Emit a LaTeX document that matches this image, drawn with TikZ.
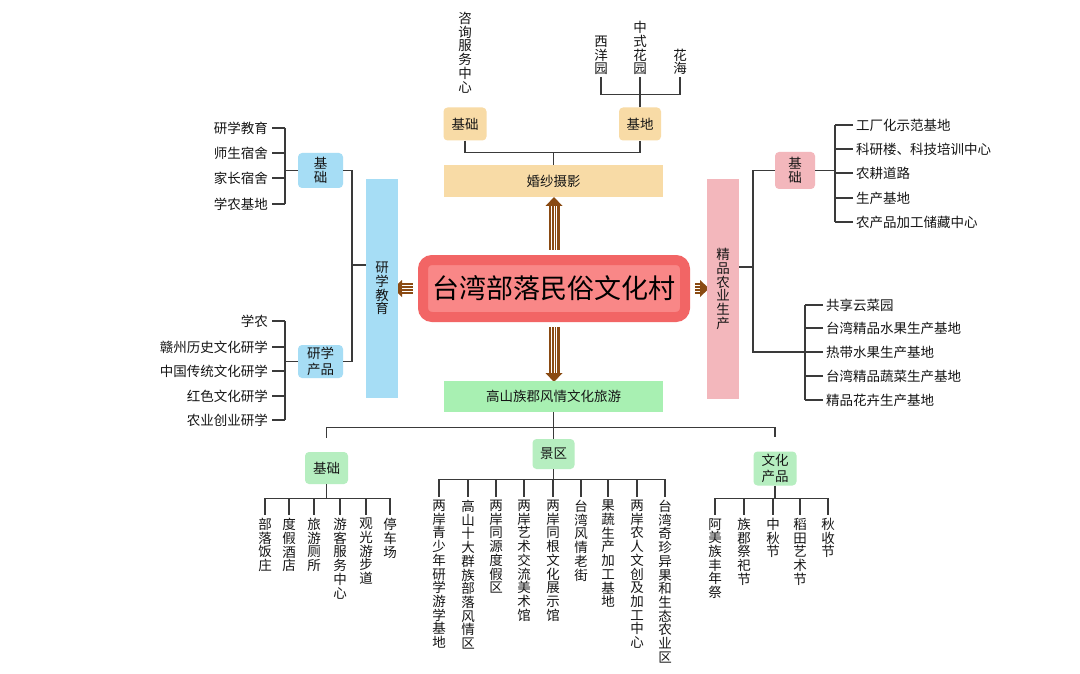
\documentclass[tikz,border=0pt]{standalone}
\usepackage{fontspec}
\setmainfont{Noto Sans CJK SC}
\definecolor{tanc}{HTML}{F8DBA6}
\definecolor{bluec}{HTML}{A6DDF5}
\definecolor{pinkc}{HTML}{F3B7BC}
\definecolor{greenc}{HTML}{A8F0B2}
\definecolor{lgreenc}{HTML}{B6EEC0}
\definecolor{redout}{HTML}{F26565}
\definecolor{redin}{HTML}{F98787}
\definecolor{brownc}{HTML}{8A4A12}
\definecolor{linec}{HTML}{3A3A3A}
\definecolor{txtc}{HTML}{151515}
\makeatletter
\def\vt@loop#1{\@tfor\vt@c:=#1\do{\hbox to 1em{\hss\vt@c\hss}}}
\newcommand\vtxt[1]{\edef\vt@l{#1}\vbox{\baselineskip=13.7pt\lineskip=0pt\lineskiplimit=-100pt\expandafter\vt@loop\expandafter{\vt@l}}}
\makeatother
\newcommand\sarrow[3]{\begin{scope}[shift={(#1)},rotate=#2]
\fill[brownc] (0,-5.5) rectangle (#3-8,5.5);
\fill[brownc] (#3-9,-8.5) -- (#3,0) -- (#3-9,8.5) -- cycle;
\foreach \s in {-2.75,0,2.75} \draw[white, line width=0.7pt] (0,\s) -- (#3-9,\s);
\end{scope}}
\begin{document}
\begin{tikzpicture}[x=1pt,y=-1pt,
  every node/.style={font=\fontsize{13.5}{15.5}\selectfont, text=txtc, inner sep=0pt},
  tanbox/.style={fill=tanc, rounded corners=4pt},
  bbox/.style={fill=bluec, rounded corners=4pt},
  pbox/.style={fill=pinkc, rounded corners=4pt},
  gbox/.style={fill=lgreenc, rounded corners=4pt},
  conn/.style={draw=linec, line width=1.2pt}]
\useasboundingbox[fill=white] (0,0) rectangle (1080,674);

% ---------- top ----------
\node[tanbox, rounded corners=0pt, minimum width=219, minimum height=32] (hs) at (553.5,181) {婚纱摄影};
\node[tanbox, minimum width=43, minimum height=33] (jcT) at (465,124) {基础};
\node[tanbox, minimum width=42, minimum height=33] (jdT) at (640,124) {基地};
\node[anchor=north] (zx) at (465,12) {\vtxt{咨询服务中心}};
\node[anchor=south] (xy) at (601,75) {\vtxt{西洋园}};
\node[anchor=south] (zs) at (640,75) {\vtxt{中式花园}};
\node[anchor=south] (hh) at (680,75) {\vtxt{花海}};
\path (hs.north) ++(0,-12) coordinate (t1);
\draw[conn] (jcT.south) |- (t1) -| (jdT.south);
\draw[conn] (hs.north) -- (t1);
\path (jdT.north) ++(0,-13) coordinate (t2);
\draw[conn] ([yshift=-2]xy.south) |- (t2) -| ([yshift=-2]hh.south);
\draw[conn] (jdT.north) -- ([yshift=-2]zs.south);

% ---------- center ----------
\node[draw=redout, line width=10pt, fill=redin, rounded corners=9pt, minimum width=262, minimum height=57,
  font=\fontsize{27}{30}\selectfont, text=black] (main) at (554,288.5) {台湾部落民俗文化村};
\sarrow{[yshift=5]main.north}{90}{53}
\sarrow{[yshift=-5]main.south}{-90}{55}
\sarrow{[xshift=-5]main.west}{180}{20}
\sarrow{[xshift=5]main.east}{0}{14}

% ---------- left ----------
\node[fill=bluec, minimum width=32, minimum height=219] (yj) at (382,288.5) {\vtxt{研学教育}};
\node[bbox, minimum width=45, minimum height=35] (jcL) at (320.5,170.5) {\vtxt{基础}};
\node[bbox, minimum width=45, minimum height=33, align=center] (cpL) at (320.5,361.5) {研学\\产品};
\coordinate (lj) at (352,265);
\draw[conn] (yj.west |- lj) -- (lj);
\draw[conn] (jcL.east) -| (cpL.east -| lj) -- (cpL.east);
\coordinate (lbx) at (285,0);
\foreach \lab/\yy [count=\i] in {研学教育/128, 师生宿舍/153, 家长宿舍/178, 学农基地/204}
  \node[anchor=east] (la\i) at (268,\yy) {\lab};
\foreach \i in {1,...,4} \draw[conn] ([xshift=4]la\i.east) -- (la\i.east -| lbx);
\draw[conn] (la1.east -| lbx) -- (la4.east -| lbx);
\draw[conn] (jcL.west) -- (jcL.west -| lbx);
\foreach \lab/\yy [count=\i] in {学农/321, 赣州历史文化研学/347, 中国传统文化研学/371, 红色文化研学/396, 农业创业研学/420}
  \node[anchor=east] (lb\i) at (268,\yy) {\lab};
\foreach \i in {1,...,5} \draw[conn] ([xshift=4]lb\i.east) -- (lb\i.east -| lbx);
\draw[conn] (lb1.east -| lbx) -- (lb5.east -| lbx);
\draw[conn] (cpL.west) -- (cpL.west -| lbx);

% ---------- right ----------
\node[fill=pinkc, minimum width=32, minimum height=220] (jp) at (723,289) {\vtxt{精品农业生产}};
\node[pbox, minimum width=40, minimum height=37] (jcR) at (795,170.5) {\vtxt{基础}};
\coordinate (rj) at (753,267);
\coordinate (rtx) at (835,0);
\coordinate (rbx) at (805,0);
\draw[conn] (jp.east |- rj) -- (rj);
\foreach \lab/\yy [count=\i] in {工厂化示范基地/125, 科研楼、科技培训中心/149, 农耕道路/173, 生产基地/198, 农产品加工储藏中心/222}
  \node[anchor=west] (ra\i) at (856,\yy) {\lab};
\foreach \i in {1,...,5} \draw[conn] ([xshift=-3]ra\i.west) -- (ra\i.west -| rtx);
\draw[conn] (ra1.west -| rtx) -- (ra5.west -| rtx);
\draw[conn] (jcR.east) -- (jcR.east -| rtx);
\foreach \lab/\yy [count=\i] in {共享云菜园/305, 台湾精品水果生产基地/328, 热带水果生产基地/352, 台湾精品蔬菜生产基地/376, 精品花卉生产基地/400}
  \node[anchor=west] (rb\i) at (826,\yy) {\lab};
\foreach \i in {1,...,5} \draw[conn] ([xshift=-3]rb\i.west) -- (rb\i.west -| rbx);
\draw[conn] (rb1.west -| rbx) -- (rb5.west -| rbx);
\draw[conn] (jcR.west) -| (rb3.west -| rj) -- (rb3.west -| rbx);

% ---------- bottom ----------
\node[fill=greenc, minimum width=219, minimum height=31] (gs) at (553.5,396.5) {高山族郡风情文化旅游};
\path (gs.south) ++(0,15) coordinate (bj);
\node[gbox, minimum width=43, minimum height=32] (jcB) at (326.5,468) {基础};
\node[gbox, minimum width=42, minimum height=30] (jq) at (553.5,454) {景区};
\node[gbox, minimum width=43, minimum height=34, align=center] (wh) at (775,468.5) {文化\\产品};
\draw[conn] (gs.south) -- (bj);
\draw[conn] ([yshift=14]jcB.north) |- (bj) -| ([yshift=14]wh.north);
\draw[conn] (bj) -- (jq.north);

\foreach \lab/\xx [count=\i] in {部落饭庄/265, 度假酒店/289, 旅游厕所/314, 游客服务中心/340, 观光游步道/366, 停车场/390}
  \node[anchor=north] (ba\i) at (\xx,518) {\vtxt{\lab}};
\path (jcB.south) ++(0,14) coordinate (bb);
\draw[conn] (jcB.south) -- (bb);
\draw[conn] (ba1.north |- bb) -- (ba6.north |- bb);
\foreach \i in {1,...,6} \draw[conn] (ba\i.north |- bb) -- ([yshift=3]ba\i.north);

\foreach \lab/\xx [count=\i] in {两岸青少年研学游学基地/439, 高山十大群族部落风情区/468, 两岸同源度假区/496, 两岸艺术交流美术馆/524, 两岸同根文化展示馆/553, 台湾风情老街/581, 果蔬生产加工基地/608, 两岸农人文创及加工中心/637, 台湾奇珍异果和生态农业区/665}
  \node[anchor=north] (qa\i) at (\xx,500) {\vtxt{\lab}};
\path (jq.south) ++(0,10) coordinate (qb);
\draw[conn] (jq.south) -- (qb);
\draw[conn] (qa1.north |- qb) -- (qa9.north |- qb);
\foreach \i in {1,...,9} \draw[conn] (qa\i.north |- qb) -- ([yshift=3]qa\i.north);

\foreach \lab/\xx [count=\i] in {阿美族丰年祭/715, 族郡祭祀节/744, 中秋节/773, 稻田艺术节/800, 秋收节/828}
  \node[anchor=north] (wa\i) at (\xx,518) {\vtxt{\lab}};
\draw[conn] (wh.south) -- (wh.south |- bb);
\draw[conn] (wa1.north |- bb) -- (wa5.north |- bb);
\foreach \i in {1,...,5} \draw[conn] (wa\i.north |- bb) -- ([yshift=3]wa\i.north);
\end{tikzpicture}
\end{document}
